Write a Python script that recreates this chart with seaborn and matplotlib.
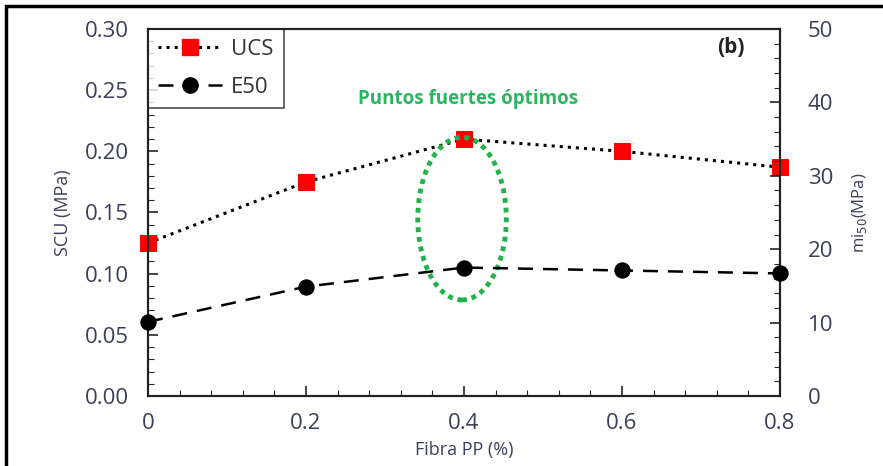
import numpy as np
import pandas as pd
import seaborn as sns
import matplotlib.pyplot as plt
from matplotlib.patches import Ellipse
from matplotlib.lines import Line2D
from matplotlib.ticker import MultipleLocator

# Data
fibra_pp = [0.0, 0.2, 0.4, 0.6, 0.8]
ucs_mpa = [0.125, 0.175, 0.210, 0.200, 0.187]
e50_mpa = [10.1, 14.9, 17.5, 17.1, 16.7]

df = pd.DataFrame({"fibra": fibra_pp, "ucs": ucs_mpa, "e50": e50_mpa})

sns.set_style("ticks")
plt.rcParams['font.family'] = ['Open Sans', 'DejaVu Sans']
text_col = "#3b3f58"

fig = plt.figure(figsize=(8.83, 4.66), dpi=100)
ax = fig.add_axes([0.1676, 0.1502, 0.7158, 0.7876])
ax2 = ax.twinx()

sns.lineplot(data=df, x="fibra", y="ucs", ax=ax, color="black", linestyle=":",
             linewidth=2.2, marker="s", markersize=11, markerfacecolor="red",
             markeredgecolor="red", zorder=3, clip_on=False)
sns.lineplot(data=df, x="fibra", y="e50", ax=ax2, color="black", linestyle=(0, (6, 4)),
             linewidth=1.8, marker="o", markersize=11, markerfacecolor="black",
             markeredgecolor="black", zorder=3, clip_on=False)

ax.set_xlim(0, 0.8)
ax.set_ylim(0, 0.30)
ax2.set_ylim(0, 50)
ax.xaxis.set_major_locator(MultipleLocator(0.2))
ax.xaxis.set_minor_locator(MultipleLocator(0.04))
ax.yaxis.set_major_locator(MultipleLocator(0.05))
ax.yaxis.set_minor_locator(MultipleLocator(0.01))
ax2.yaxis.set_major_locator(MultipleLocator(10))
ax2.yaxis.set_minor_locator(MultipleLocator(2))
ax.set_xticks([0, 0.2, 0.4, 0.6, 0.8], ["0", "0.2", "0.4", "0.6", "0.8"])
ax.set_yticks(np.arange(0, 0.31, 0.05), [f"{v:.2f}" for v in np.arange(0, 0.31, 0.05)])

for a in (ax, ax2):
    a.tick_params(which="major", direction="in", length=7, width=1.2,
                  labelsize=16, labelcolor=text_col, pad=14)
    a.tick_params(which="minor", direction="in", length=4, width=0.8)
    for s in a.spines.values():
        s.set_linewidth(1.5)
        s.set_color("#222222")
ax.tick_params(axis="x", which="both", top=False, pad=12)
ax2.tick_params(axis="y", which="major", pad=20)

ax.set_xlabel("Fibra PP (%)", fontsize=13, color=text_col, labelpad=5)
ax.set_ylabel("SCU (MPa)", fontsize=13, color=text_col, labelpad=9)
ax2.set_ylabel("mi$_{50}$(MPa)", fontsize=12, color=text_col, labelpad=12)

handles = [
    Line2D([], [], color="black", linestyle=":", linewidth=2.2, marker="s",
           markersize=11, markerfacecolor="red", markeredgecolor="red"),
    Line2D([], [], color="black", linestyle=(0, (6, 4)), linewidth=1.8, marker="o",
           markersize=11, markerfacecolor="black"),
]
leg = ax.legend(handles, ["UCS", "E50"], loc="upper left", bbox_to_anchor=(0, 1),
                frameon=True, fancybox=False, edgecolor="#222222", fontsize=16,
                handlelength=2.9, handletextpad=0.4, borderpad=0.45,
                labelspacing=0.75, borderaxespad=0)
leg.get_frame().set_linewidth(1.2)
for t in leg.get_texts():
    t.set_color("#333333")

ax.text(0.738, 0.285, "(b)", fontsize=15, fontweight="bold", color="#222222",
        ha="center", va="center")
ax.text(0.405, 0.243, "Puntos fuertes óptimos", fontsize=13.5, fontweight="bold",
        color="#2bb560", ha="center", va="center")
ax.add_patch(Ellipse((0.3975, 0.145), 0.112, 0.133, fill=False, edgecolor="#22b14c",
                     linestyle=(0, (1, 1)), linewidth=3.5, zorder=4))

# outer frame of the original figure
fig.add_artist(plt.Rectangle((6 / 883, -0.1), 1.2, 1 - 6 / 466 + 0.1, fill=False,
                             edgecolor="black", linewidth=2.5,
                             transform=fig.transFigure, clip_on=False))

fig.savefig("out.png", dpi=100)
